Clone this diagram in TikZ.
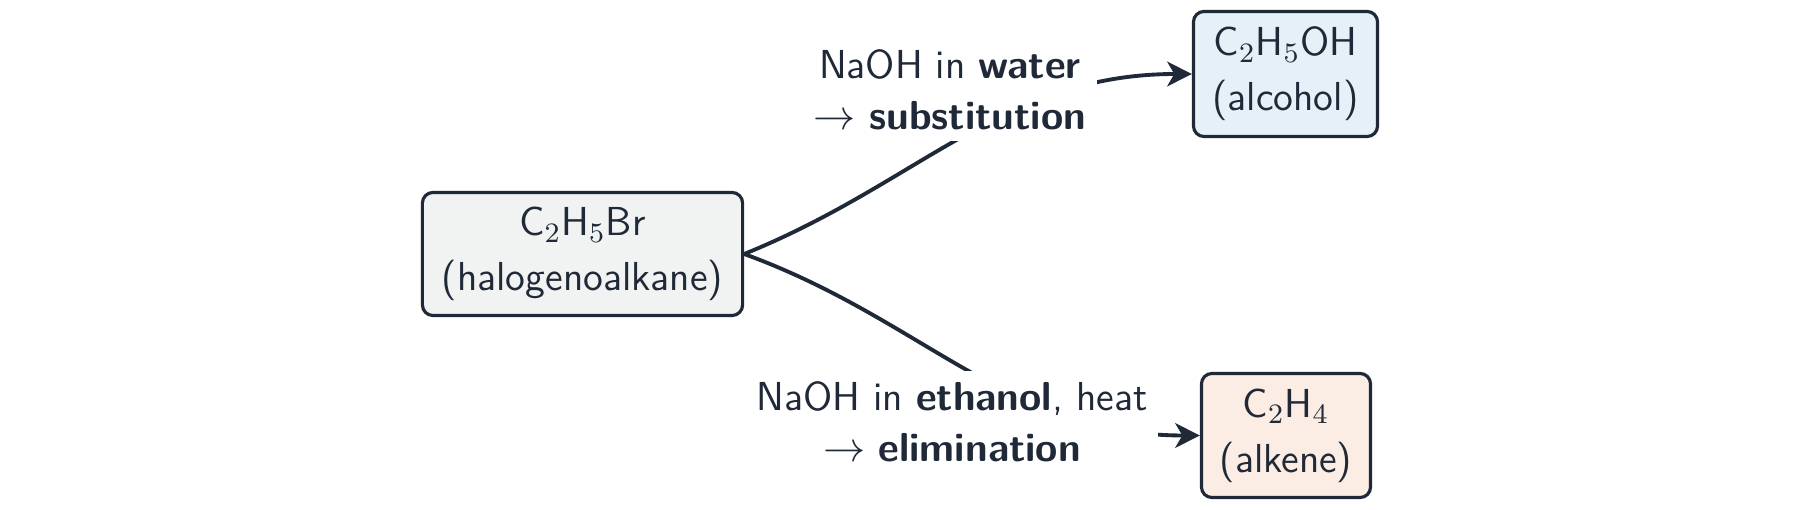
\documentclass[tikz,border=0pt]{standalone}
\usetikzlibrary{arrows.meta}
\definecolor{ink}{HTML}{1F2937}
\definecolor{srcfill}{HTML}{F1F3F2}
\definecolor{alcfill}{HTML}{E6F0F8}
\definecolor{alkfill}{HTML}{FBEDE3}
\begin{document}
\begin{tikzpicture}[x=0.01cm,y=0.01cm,
  font=\sffamily\fontsize{11.5pt}{15.6pt}\selectfont, text=ink,
  box/.style={draw=ink, line width=0.9pt, rounded corners=3pt, align=center, inner sep=0pt},
  conn/.style={draw=ink, line width=1.1pt, -{Stealth[length=7pt,width=7pt,inset=2pt]}},
  lbl/.style={fill=white, align=center, inner sep=3pt, font=\sffamily\fontsize{11.5pt}{14.4pt}\selectfont}]
\useasboundingbox (0,0) rectangle (1800,-510);
\node[box, fill=srcfill, minimum width=3.20cm, minimum height=1.23cm] (src) at (582.5,-254) {C$_2$H$_5$Br\\(halogenoalkane)};
\node[box, fill=alcfill, minimum width=1.84cm, minimum height=1.25cm] (alc) at (1285.5,-74) {C$_2$H$_5$OH\\(alcohol)};
\node[box, fill=alkfill, minimum width=1.69cm, minimum height=1.24cm] (alk) at (1286,-435.5) {C$_2$H$_4$\\(alkene)};
\draw[conn] (src.east) to[out=22, in=180] (alc.west);
\draw[conn] (src.east) to[out=-20, in=180] (alk.west);
\node[lbl] (lsub) at (950,-90) {NaOH in \textbf{water}\\$\rightarrow$ \textbf{substitution}};
\node[lbl] (lelim) at (952,-422) {NaOH in \textbf{ethanol}, heat\\$\rightarrow$ \textbf{elimination}};
\end{tikzpicture}
\end{document}
